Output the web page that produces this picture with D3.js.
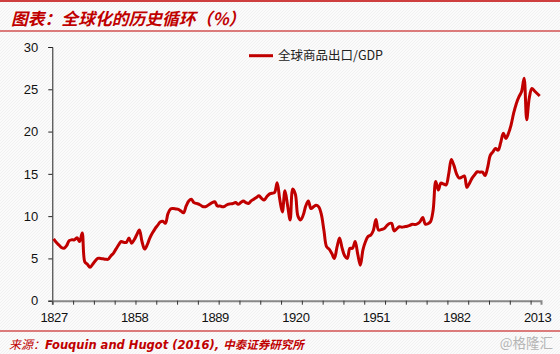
<!DOCTYPE html>
<html>
<head>
<meta charset="utf-8">
<script src="https://cdn.jsdelivr.net/npm/d3@7"></script>
<style>
  html, body { margin: 0; padding: 0; background: #fff; }
  svg { display: block; }
  .tick text { font-family: "Liberation Sans", Arial, sans-serif; fill: #111; }
</style>
</head>
<body>
<div id="chart"></div>
<script>
// Global goods exports / GDP (%), annual
const firstYear = 1827;
const exportShare = [
  // 1827-1836
  7.3, 6.9, 6.6, 6.3, 6.2, 6.5, 7.1, 7.2, 7.2, 7.45,
  // 1837-1846
  7.0, 8.0, 4.6, 4.3, 3.95, 4.3, 4.7, 5.0, 5.0, 4.95,
  // 1847-1856
  4.9, 4.9, 5.3, 5.6, 6.1, 6.6, 7.0, 6.9, 6.9, 7.4,
  // 1857-1866
  6.8, 7.2, 7.8, 8.35, 7.0, 6.1, 6.6, 7.4, 8.0, 8.5,
  // 1867-1876
  8.9, 9.3, 9.4, 9.15, 10.3, 10.85, 10.9, 10.85, 10.8, 10.6,
  // 1877-1886
  10.4, 11.2, 11.8, 12.0, 11.6, 11.5, 11.4, 11.2, 11.1, 11.2,
  // 1887-1896
  11.4, 11.6, 11.7, 11.2, 11.2, 11.1, 11.2, 11.4, 11.45, 11.5,
  // 1897-1906
  11.6, 11.4, 11.6, 11.8, 11.6, 11.5, 11.8, 12.0, 12.2, 12.4,
  // 1907-1916
  12.1, 11.9, 12.3, 12.6, 12.7, 12.8, 13.95, 12.0, 10.5, 13.0,
  // 1917-1926
  11.3, 9.55, 13.2, 12.6, 10.0, 9.55, 10.1, 11.2, 11.8, 10.9,
  // 1927-1936
  11.1, 11.3, 11.1, 10.2, 8.3, 6.4, 6.1, 5.6, 5.0, 6.3,
  // 1937-1946
  7.4, 6.2, 5.3, 5.0, 6.2, 6.2, 7.0, 5.5, 4.2, 6.0,
  // 1947-1956
  7.0, 7.6, 7.75, 8.3, 9.6, 8.35, 8.4, 8.5, 8.8, 9.1,
  // 1957-1966
  9.15, 8.25, 8.5, 8.75, 8.7, 8.75, 8.8, 8.9, 9.05, 9.0,
  // 1967-1976
  9.1, 9.35, 9.85, 9.05, 9.1, 9.35, 10.7, 14.1, 13.1, 13.9,
  // 1977-1986
  13.8, 13.7, 15.0, 16.7, 16.0, 15.0, 14.5, 14.6, 14.75, 13.4,
  // 1987-1996
  13.9, 14.5, 14.9, 15.25, 15.2, 15.2, 14.8, 15.8, 17.2, 17.6,
  // 1997-2006
  18.0, 17.8, 18.7, 19.8, 19.2, 19.8, 20.8, 22.2, 23.3, 24.1,
  // 2007-2014
  24.7, 26.3, 21.4, 24.0, 25.1, 24.8, 24.5, 24.2
];
const years = exportShare.map((_, i) => firstYear + i);
const yTicks = [0, 5, 10, 15, 20, 25, 30];
const xLabelYears = [1827, 1858, 1889, 1920, 1951, 1982, 2013];
const seriesName = "全球商品出口/GDP";
const titleText = "图表：全球化的历史循环（%）";
const sourceLabel = "来源：";
const sourceText = "Fouquin and Hugot (2016), 中泰证券研究所";
const watermark = "@格隆汇";

const W = 560, H = 354;
const RED = "#c00000";
const plot = { left: 52.3, right: 541, top: 47, bottom: 300.7 };

const svg = d3.select("#chart").append("svg")
  .attr("width", W).attr("height", H);

// faint diagonal hatch background
const defs = svg.append("defs");
const pat = defs.append("pattern").attr("id", "hatch")
  .attr("patternUnits", "userSpaceOnUse").attr("width", 3).attr("height", 3);
pat.append("rect").attr("width", 3).attr("height", 3).attr("fill", "#fbfbfb");
pat.append("path").attr("d", "M-1,1 L1,-1 M0,3 L3,0 M2,4 L4,2")
  .attr("stroke", "#efefef").attr("stroke-width", 0.8);
svg.append("rect").attr("width", W).attr("height", H).attr("fill", "url(#hatch)");

// title band
svg.append("line").attr("x1", 0).attr("x2", W).attr("y1", 1).attr("y2", 1)
  .attr("stroke", RED).attr("stroke-width", 1.5);
svg.append("text")
  .attr("x", 11).attr("y", 25)
  .attr("fill", RED)
  .style("font-family", "'Noto Sans CJK SC', sans-serif")
  .style("font-size", "16.8px").style("font-weight", "bold").style("font-style", "italic")
  .text(titleText);
svg.append("line").attr("x1", 0).attr("x2", W).attr("y1", 31).attr("y2", 31)
  .attr("stroke", RED).attr("stroke-width", 1.2);

// scales: one category per year, ticks on category boundaries
const x = d3.scaleLinear()
  .domain([firstYear - 0.5, years[years.length - 1] + 0.5])
  .range([plot.left, plot.right]);
const y = d3.scaleLinear().domain([0, 30]).range([plot.bottom, plot.top]);

// y axis
svg.append("g").attr("transform", `translate(${plot.left},0)`)
  .call(d3.axisLeft(y).tickValues(yTicks).tickSize(4).tickPadding(10))
  .call(g => g.select(".domain").attr("stroke", "#222"))
  .call(g => g.selectAll(".tick line").attr("stroke", "#222"))
  .call(g => g.selectAll(".tick text").style("font-size", "13px"));

// x axis: boundary ticks every 8 years
const boundaryTicks = d3.range(0, years.length, 8).map(i => firstYear - 0.5 + i);
svg.append("g").attr("transform", `translate(0,${plot.bottom})`)
  .call(d3.axisBottom(x).tickValues(boundaryTicks).tickSize(4).tickFormat(""))
  .call(g => g.select(".domain").attr("stroke", "#888").attr("stroke-width", 2))
  .call(g => g.selectAll(".tick line").attr("stroke", "#333"));
svg.append("g").attr("transform", `translate(0,${plot.bottom})`)
  .call(d3.axisBottom(x).tickValues(xLabelYears).tickSize(0).tickPadding(12).tickFormat(d3.format("d")))
  .call(g => g.select(".domain").remove())
  .call(g => g.selectAll(".tick text").style("font-size", "13px").style("letter-spacing", "-0.4px"));

// series line
const line = d3.line()
  .x((d, i) => x(years[i]))
  .y(d => y(d))
  .curve(d3.curveCatmullRom.alpha(0.5));
svg.append("path").datum(exportShare)
  .attr("d", line)
  .attr("fill", "none")
  .attr("stroke", RED)
  .attr("stroke-width", 3)
  .attr("stroke-linejoin", "round");

// legend
svg.append("line").attr("x1", 249).attr("x2", 273).attr("y1", 55.7).attr("y2", 55.7)
  .attr("stroke", RED).attr("stroke-width", 3);
svg.append("text").attr("x", 278).attr("y", 60)
  .attr("fill", "#222")
  .style("font-family", "'Noto Sans CJK SC', sans-serif")
  .style("font-size", "12.5px")
  .text(seriesName);

// footer
svg.append("line").attr("x1", 0).attr("x2", W).attr("y1", 331).attr("y2", 331)
  .attr("stroke", RED).attr("stroke-width", 1.2);
const src = svg.append("text").attr("x", 9).attr("y", 349)
  .attr("fill", RED)
  .style("font-family", "'Noto Sans CJK SC', sans-serif")
  .style("font-size", "12px").style("font-style", "italic");
src.append("tspan").text(sourceLabel);
src.append("tspan").style("font-weight", "bold")
  .style("font-family", "'DejaVu Sans', 'Noto Sans CJK SC', sans-serif")
  .style("font-size", "11.5px")
  .text(sourceText);
svg.append("text").attr("x", 553).attr("y", 348).attr("text-anchor", "end")
  .attr("fill", "#b4b4b4")
  .style("font-family", "'Noto Sans CJK SC', sans-serif")
  .style("font-size", "13.5px")
  .text(watermark);
</script>
</body>
</html>
